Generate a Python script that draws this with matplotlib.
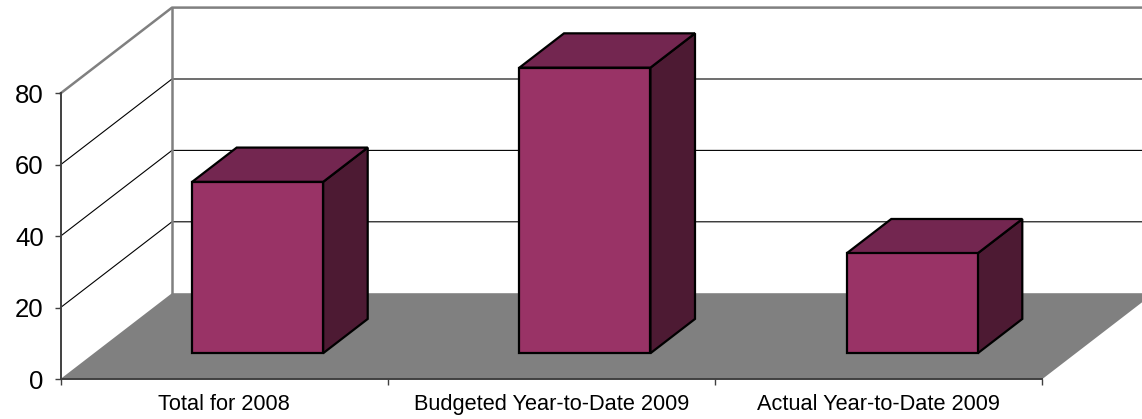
import matplotlib
matplotlib.use("Agg")
import matplotlib.pyplot as plt
from matplotlib.patches import Polygon

plt.rcParams['font.family'] = ['Liberation Sans', 'DejaVu Sans']

categories = ['Total for 2008', 'Budgeted Year-to-Date 2009', 'Actual Year-to-Date 2009']
values = [48, 80, 28]
y_ticks = [0, 20, 40, 60, 80]

# pixels per unit on the front plane of the fake 3d box
px_x = 327.3
px_y = 3.57
x0_px, y0_px = 60.5, 379
depth_x = 111.5 / px_x
depth_y = 85.8 / px_y

bar_width = 131 / px_x
bar_d0, bar_d1 = 0.30, 0.70


def project(x, y, d):
    """front-plane coords pushed back by depth d (0..1)"""
    return x + d * depth_x, y + d * depth_y


fig = plt.figure(figsize=(11.42, 4.19), dpi=100)
ax = fig.add_axes([0, 0, 1, 1])
ax.set_xlim(-x0_px / px_x, (1142 - x0_px) / px_x)
ax.set_ylim((y0_px - 419) / px_y, y0_px / px_y)

# floor and walls
n = len(categories)
floor = [project(0, 0, 0), project(n, 0, 0), project(n, 0, 1), project(0, 0, 1)]
ax.add_patch(Polygon(floor, closed=True, facecolor='#808080', edgecolor='none', zorder=1))

for v in y_ticks[1:-1]:
    pts = [project(0, v, 0), project(0, v, 1), project(n, v, 1)]
    ax.plot(*zip(*pts), color='black', lw=0.8, zorder=1.5)

top = [project(0, 80, 0), project(0, 80, 1), project(n, 80, 1)]
ax.plot(*zip(*top), color='#808080', lw=1.8, zorder=1.5)
back = [project(0, 0, 1), project(0, 80, 1)]
ax.plot(*zip(*back), color='#808080', lw=1.8, zorder=1.6)

# bars
for i, val in enumerate(values):
    left = i + 0.5 - bar_width / 2
    right = i + 0.5 + bar_width / 2
    front = [project(left, 0, bar_d0), project(right, 0, bar_d0),
             project(right, val, bar_d0), project(left, val, bar_d0)]
    side = [project(right, 0, bar_d0), project(right, 0, bar_d1),
            project(right, val, bar_d1), project(right, val, bar_d0)]
    lid = [project(left, val, bar_d0), project(right, val, bar_d0),
           project(right, val, bar_d1), project(left, val, bar_d1)]
    ax.add_patch(Polygon(side, closed=True, facecolor='#4d1a33', edgecolor='black', lw=1.6, zorder=3))
    ax.add_patch(Polygon(lid, closed=True, facecolor='#732650', edgecolor='black', lw=1.6, zorder=3))
    ax.add_patch(Polygon(front, closed=True, facecolor='#993366', edgecolor='black', lw=1.6, zorder=3))

# axes lines and labels
for name in ['top', 'right']:
    ax.spines[name].set_visible(False)
ax.spines['left'].set_position(('data', 0))
ax.spines['bottom'].set_position(('data', 0))
ax.spines['left'].set_bounds(0, 80)
ax.spines['bottom'].set_bounds(0, n)
ax.spines['left'].set_color('#404040')
ax.spines['bottom'].set_color('#404040')
ax.spines['left'].set_linewidth(1.4)
ax.spines['bottom'].set_linewidth(1.4)

ax.set_yticks(y_ticks)
ax.tick_params(axis='y', labelsize=18.5, length=4.5, width=1, color='#404040', pad=7.5)

ax.set_xticks(range(n + 1))
ax.set_xticklabels([])
ax.set_xticks([i + 0.5 for i in range(n)], minor=True)
ax.set_xticklabels(categories, minor=True)
ax.tick_params(axis='x', which='major', length=4, width=1, color='#404040')
ax.tick_params(axis='x', which='minor', length=0, labelsize=15.7, pad=10.5)

fig.savefig('out.png', dpi=100)
